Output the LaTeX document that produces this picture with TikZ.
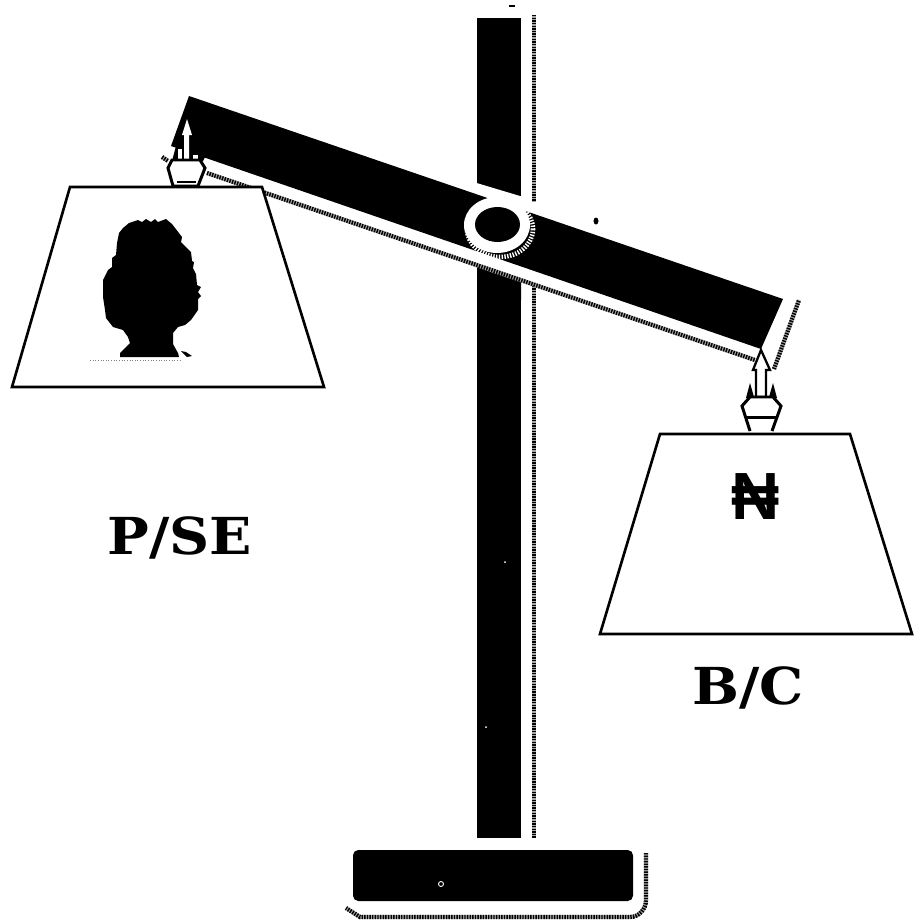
\documentclass[tikz,border=0pt]{standalone}
\usepackage{fontspec}
\setmainfont{DejaVu Serif}
\newfontfamily\labelfont[FakeStretch=1.09]{DejaVu Serif}
\newfontfamily\nairafont{Liberation Sans}
\begin{document}
\begin{tikzpicture}[x=0.02cm, y=-0.02cm,
  shadowline/.style={line width=2.4pt, draw=gray!70, postaction={draw=black, dash pattern=on 0.8pt off 0.7pt}},
  pan/.style={draw=black, fill=white, line width=1.5pt, line join=miter},
  hookline/.style={draw=black, line width=1.7pt},
  biglabel/.style={font=\fontsize{29}{32}\selectfont\labelfont\bfseries, inner sep=0pt}]
\useasboundingbox (0,0) rectangle (916,923);

% post with its shadow
\fill (477,18) rectangle (521,838);
\draw[shadowline] (534,15) -- (534,202);
\draw[shadowline] (534,283) -- (534,838);
\fill[black] (509,5) rectangle (515,7);

% white band round the beam
\fill[white] (470,181) -- (530,199) -- (530,290) -- (470,264) -- cycle;
\fill (477,266) -- (521,281) -- (521,300) -- (477,300) -- cycle;

% beam
\draw[shadowline] (207,173) -- (755,360);
\draw[shadowline] (774,369) -- (799,300);
\draw[shadowline] (162,157) -- (168,161);
\fill (189,96) -- (783,299) -- (761,349) -- (171,146) -- cycle;

% pivot
\draw[white, line width=2.6pt, dash pattern=on 0.8pt off 0.8pt] (500,229) ellipse [x radius=33, y radius=28];
\fill[white] (497,225) ellipse [x radius=33, y radius=28];
\fill (497.5,224.5) ellipse [x radius=22.5, y radius=17.5];

% left hook
\fill (176,146) -- (172,161) -- (203,161) -- (205,157) -- cycle;
\fill[white] (187,119) -- (192,135) -- (189,135) -- (189,160) -- (184,160) -- (184,135) -- (182,135) -- cycle;
\fill[white] (178,149) rectangle (182,160);
\fill[white] (193,155) rectangle (198,160);
\draw[hookline, fill=white] (172,160) -- (200,160) -- (205,168) -- (198,186) -- (173,186) -- (168,168) -- cycle;
\draw[hookline] (177,182) -- (196,182);

% right hook
\draw[hookline, line width=1.3pt, fill=white] (761,350) -- (770,370) -- (766,370) -- (766,397) -- (756,397) -- (756,370) -- (753,370) -- cycle;
\fill[white] (750,397) -- (742,406) -- (750,432) -- (772,432) -- (781,406) -- (773,397) -- cycle;
\draw[hookline] (750,431) -- (742,406) -- (750,397) -- (773,397) -- (781,406) -- (772,431);
\fill (750,383) -- (754,397) -- (746,398) -- cycle;
\fill (773,383) -- (769,397) -- (777,398) -- cycle;
\draw[hookline] (747,417) -- (776,417);

% pans
\draw[pan] (12,387) -- (70,187) -- (262,187) -- (324,387) -- cycle;
\draw[pan] (600,634) -- (660,434) -- (850,434) -- (912,634) -- cycle;

% head on left pan
\fill (129,223) -- (138,220) -- (142,222) -- (146,219) -- (151,222) -- (155,219) -- (158,222) -- (166,219)
  -- (172,224) -- (182,237) -- (181,242) -- (191,252) -- (192,261) -- (194,262) -- (193,268) -- (196,274)
  -- (197,285) -- (201,287) -- (198,292) -- (201,296) -- (198,299) -- (198,310) -- (191,320) -- (185,325)
  -- (178,327) -- (173,333) -- (173,344) -- (178,353) -- (179,357) -- (120,357) -- (120,353) -- (130,343)
  -- (128,337) -- (123,330) -- (113,327) -- (106,318) -- (105,310) -- (103,297) -- (103,280) -- (108,270)
  -- (112,267) -- (112,258) -- (116,255) -- (117,243) -- (119,233) -- (123,228) -- cycle;
\fill (181,351) -- (186,352) -- (192,356) -- (187,357) -- cycle;
\draw[gray, densely dotted, line width=0.5pt] (90,360) -- (180,360);

% base
\fill[rounded corners=3pt] (353,850) rectangle (633,901);
\draw[white, line width=0.5pt] (441,884) circle (2.5);
\draw[shadowline] (646,853) -- (646,900) arc[start angle=0, end angle=90, x radius=16, y radius=17] -- (360,917) -- (346,908);

% specks
\fill (596,221) ellipse [x radius=2.5, y radius=3.5];
\fill[white] (505,562) circle (1);
\fill[white] (486,727) circle (1);

% labels
\node[biglabel] (pse) at (180,538) {P/SE};
\node[biglabel] (bc) at (748,688) {B/C};
\node[inner sep=0pt, font=\fontsize{38}{42}\selectfont\nairafont\bfseries] (naira) at (756,497) {₦};
\end{tikzpicture}
\end{document}
